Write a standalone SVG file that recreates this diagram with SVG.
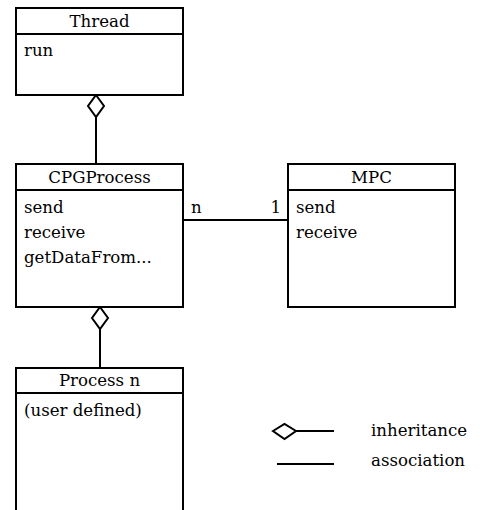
<svg xmlns="http://www.w3.org/2000/svg" width="480" height="510" viewBox="0 0 480 510">
<style>
.box{fill:#fff;stroke:#000;stroke-width:2}
.ln{stroke:#000;stroke-width:2;fill:none}
.dia{fill:#fff;stroke:#000;stroke-width:2}
.t{font-family:'DejaVu Serif','Liberation Serif',serif;font-size:16.6px;fill:#000}
.c{text-anchor:middle}
</style>
<rect width="480" height="510" fill="#fff"/>
<g id="connectors">
<line class="ln" x1="96" y1="117" x2="96" y2="164"/>
<polygon class="dia" points="96,95 104,106 96,117 88,106"/>
<line class="ln" x1="100" y1="329" x2="100" y2="368"/>
<polygon class="dia" points="100,307 108,318 100,329 92,318"/>
<line class="ln" x1="183" y1="220" x2="288" y2="220"/>
<text class="t" x="191" y="213">n</text>
<text class="t" x="281" y="213" text-anchor="end">1</text>
</g>
<g id="Thread">
<rect class="box" x="16" y="8" width="167" height="87"/>
<line class="ln" x1="16" y1="34" x2="183" y2="34"/>
<text class="t c" x="99.5" y="27">Thread</text>
<text class="t" x="24" y="56">run</text>
</g>
<g id="CPGProcess">
<rect class="box" x="16" y="164" width="167" height="143"/>
<line class="ln" x1="16" y1="190" x2="183" y2="190"/>
<text class="t c" x="99.5" y="183">CPGProcess</text>
<text class="t" x="24" y="213">send</text>
<text class="t" x="24" y="238">receive</text>
<text class="t" x="24" y="263">getDataFrom...</text>
</g>
<g id="MPC">
<rect class="box" x="288" y="164" width="167" height="143"/>
<line class="ln" x1="288" y1="190" x2="455" y2="190"/>
<text class="t c" x="371.5" y="183">MPC</text>
<text class="t" x="296" y="213">send</text>
<text class="t" x="296" y="238">receive</text>
</g>
<g id="ProcessN">
<rect class="box" x="16" y="368" width="167" height="150"/>
<line class="ln" x1="16" y1="393" x2="183" y2="393"/>
<text class="t c" x="99.5" y="386">Process n</text>
<text class="t" x="24" y="416">(user defined)</text>
</g>
<g id="legend">
<polygon class="dia" points="273,431 284.5,424 296,431 284.5,439"/>
<line class="ln" x1="296" y1="431" x2="334" y2="431"/>
<text class="t" x="371" y="436">inheritance</text>
<line class="ln" x1="277" y1="464" x2="334" y2="464"/>
<text class="t" x="371" y="466">association</text>
</g>
</svg>
